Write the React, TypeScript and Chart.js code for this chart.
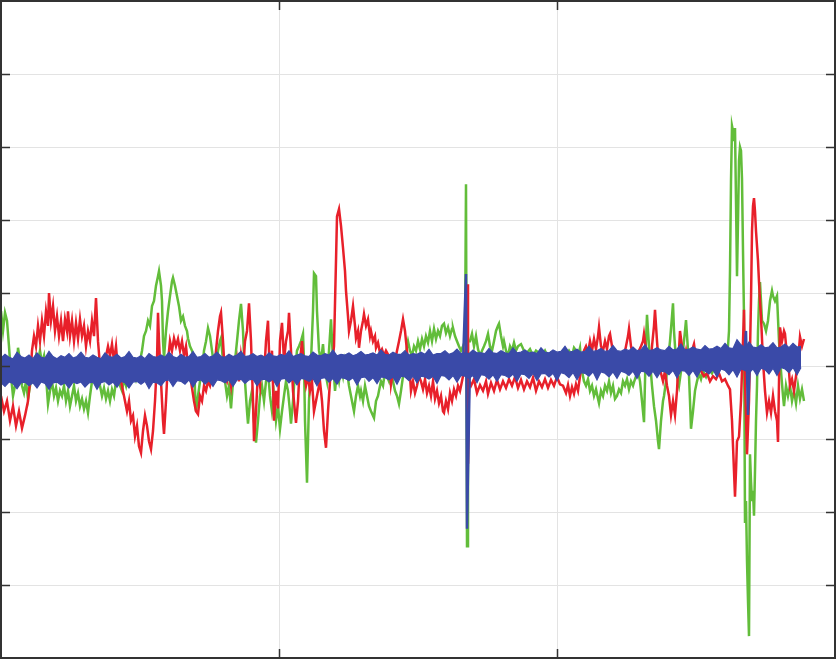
import React, { useEffect, useRef } from "react";
import { Chart, registerables } from "chart.js";

Chart.register(...registerables);

// x: sample index, y: signal amplitude (grid = 1 unit)
const xMax = 834;
const xStep = 278;
const yMin = -4;
const yMax = 5;

const redSeries: [number, number][] = [[0,-0.41],[3,-0.62],[6,-0.48],[9,-0.75],[12,-0.55],[15,-0.82],[18,-0.62],[21,-0.85],[24,-0.68],[27,-0.48],[29,-0.21],[31,0.21],[33,0.41],[35,0.27],[37,0.55],[39,0.34],[41,0.62],[43,0.41],[45,0.75],[47,0.55],[48,1.0],[50,0.62],[52,0.82],[54,0.48],[56,0.68],[58,0.41],[60,0.62],[62,0.34],[64,0.64],[66,0.48],[67,0.75],[69,0.41],[71,0.62],[73,0.34],[75,0.59],[77,0.37],[79,0.64],[81,0.41],[83,0.55],[85,0.27],[87,0.48],[89,0.34],[91,0.62],[93,0.41],[95,0.93],[97,0.34],[99,0],[101,-0.07],[104,0.07],[107,0.27],[109,0.14],[111,0.30],[113,0.07],[115,0.27],[117,-0.07],[120,-0.21],[123,-0.41],[126,-0.62],[128,-0.48],[130,-0.75],[132,-0.68],[134,-0.96],[136,-0.82],[138,-1.10],[140,-1.19],[142,-0.89],[144,-0.68],[146,-0.82],[148,-1.03],[150,-1.14],[152,-0.89],[154,-0.48],[156,0.07],[157,0.73],[158,0.34],[160,-0.21],[162,-0.75],[163,-0.93],[165,-0.48],[167,0.07],[169,0.34],[171,0.21],[173,0.38],[175,0.27],[177,0.37],[179,0.21],[181,0.34],[183,0.14],[185,0.27],[187,0],[190,-0.21],[193,-0.48],[195,-0.62],[197,-0.66],[199,-0.41],[201,-0.48],[203,-0.27],[205,-0.34],[207,-0.21],[209,-0.27],[211,-0.14],[213,-0.07],[215,0.21],[217,0.48],[219,0.68],[220,0.73],[222,0.34],[224,-0.14],[226,-0.21],[228,-0.07],[230,-0.27],[232,0],[234,-0.14],[236,0.07],[238,-0.21],[240,0.14],[242,-0.07],[244,0.34],[246,0.48],[248,0.86],[250,0.34],[252,-0.48],[253,-1.03],[255,-0.62],[257,-0.07],[259,-0.27],[261,0.14],[263,-0.14],[265,0.34],[267,0.62],[269,-0.21],[271,0.21],[273,-0.75],[275,-0.34],[277,-0.58],[279,0.34],[281,0.59],[283,0.07],[285,0.34],[287,0.48],[288,0.73],[290,0.21],[292,-0.34],[295,-0.78],[297,-0.48],[299,0.07],[301,0.34],[303,-0.07],[305,-0.27],[307,-0.14],[309,-0.34],[311,-0.21],[313,-0.62],[315,-0.48],[317,-0.34],[319,-0.21],[321,-0.48],[323,-0.89],[325,-1.12],[327,-0.62],[329,-0.21],[331,0],[333,0.27],[335,1.44],[336,2.05],[338,2.15],[340,1.92],[342,1.62],[344,1.30],[345,1.03],[347,0.68],[348,0.48],[350,0.62],[352,0.82],[354,0.55],[355,0.38],[357,0.48],[358,0.25],[360,0.48],[362,0.62],[363,0.71],[365,0.55],[367,0.64],[369,0.41],[370,0.48],[372,0.34],[374,0.41],[375,0.25],[377,0.32],[379,0.18],[381,0.23],[383,0.14],[385,0.21],[387,0.16],[389,0],[390,-0.25],[392,-0.07],[394,0.07],[396,0.21],[398,0.34],[400,0.48],[402,0.64],[404,0.48],[405,0.34],[407,0.07],[409,-0.14],[410,-0.34],[412,-0.21],[414,-0.37],[416,-0.27],[418,-0.14],[420,-0.21],[422,-0.32],[424,-0.18],[426,-0.37],[428,-0.27],[430,-0.41],[432,-0.21],[434,-0.45],[436,-0.34],[438,-0.51],[440,-0.41],[442,-0.62],[443,-0.64],[445,-0.48],[447,-0.59],[449,-0.37],[451,-0.48],[453,-0.32],[455,-0.41],[457,-0.27],[459,-0.34],[461,-0.21],[463,-0.07],[465,0.34],[466,1.12],[467,-1.34],[468,-0.21],[470,-0.27],[473,-0.18],[476,-0.37],[479,-0.26],[482,-0.34],[485,-0.21],[487,-0.38],[490,-0.23],[493,-0.34],[496,-0.19],[499,-0.32],[502,-0.21],[505,-0.30],[508,-0.18],[511,-0.27],[514,-0.15],[517,-0.30],[520,-0.19],[523,-0.32],[526,-0.21],[529,-0.29],[532,-0.16],[535,-0.34],[538,-0.21],[541,-0.29],[544,-0.18],[547,-0.30],[550,-0.19],[553,-0.27],[556,-0.15],[559,-0.25],[562,-0.27],[565,-0.37],[567,-0.26],[569,-0.41],[571,-0.29],[573,-0.38],[575,-0.25],[577,-0.34],[579,-0.14],[581,0.07],[583,0.21],[585,0.27],[587,0.18],[589,0.34],[591,0.21],[593,0.37],[595,0.23],[597,0.41],[598,0.53],[600,0.27],[602,0.21],[604,0.34],[606,0.23],[608,0.41],[609,0.44],[611,0.27],[613,0.14],[615,0.04],[617,-0.07],[619,0],[621,0.07],[623,0.14],[625,0.27],[627,0.41],[628,0.51],[630,0.27],[632,0.14],[634,0],[636,0.07],[638,0.21],[640,0.27],[642,0.34],[643,0.44],[645,0.23],[647,0],[649,-0.07],[651,0.27],[653,0.55],[654,0.77],[656,0.34],[658,0],[660,-0.10],[662,-0.21],[664,-0.07],[666,-0.27],[668,-0.41],[670,-0.67],[672,-0.48],[674,-0.67],[676,-0.34],[678,0.21],[679,0.48],[681,0.27],[683,0.07],[685,0.21],[687,0.07],[689,0.14],[691,0.21],[693,0.30],[695,0.10],[697,0],[700,-0.07],[703,-0.14],[706,-0.10],[709,-0.21],[712,-0.14],[715,-0.18],[718,-0.10],[721,-0.21],[724,-0.18],[727,-0.27],[729,-0.32],[731,-0.75],[733,-1.44],[734,-1.79],[735,-1.44],[736,-1.03],[738,-0.97],[740,-0.48],[742,0.34],[743,0.77],[744,-0.21],[746,-1.21],[748,-0.48],[750,0.89],[751,1.85],[752,2.19],[753,2.30],[754,2.12],[755,1.85],[757,1.44],[758,1.15],[759,0.89],[760,0.67],[762,0.07],[764,-0.34],[766,-0.64],[768,-0.48],[770,-0.64],[772,-0.41],[774,-0.62],[776,-0.75],[777,-1.04],[778,-0.21],[779,0.53],[781,0.34],[783,0.48],[784,0.44],[786,0.14],[788,-0.07],[789,-0.27],[791,-0.18],[793,-0.34],[795,-0.14],[797,0.07],[799,0.40],[801,0.27],[803,0.37]];

const greenSeries: [number, number][] = [[0,0.75],[2,0.48],[4,0.73],[6,0.62],[8,0.27],[10,-0.14],[12,-0.41],[14,-0.27],[16,-0.07],[17,0.25],[19,0.07],[21,-0.27],[23,-0.37],[25,-0.21],[27,-0.45],[29,-0.27],[31,-0.14],[33,0],[35,0.14],[37,0.07],[39,0.21],[41,0.04],[43,0.14],[45,-0.14],[47,-0.52],[49,-0.34],[51,-0.21],[53,-0.41],[55,-0.30],[57,-0.48],[59,-0.34],[61,-0.41],[63,-0.27],[65,-0.48],[67,-0.34],[69,-0.55],[71,-0.41],[73,-0.27],[75,-0.48],[77,-0.37],[79,-0.55],[81,-0.45],[83,-0.59],[85,-0.48],[87,-0.64],[89,-0.41],[91,-0.21],[93,-0.07],[95,-0.21],[97,-0.07],[99,-0.27],[101,-0.41],[103,-0.30],[105,-0.45],[107,-0.34],[109,-0.48],[111,-0.32],[113,-0.41],[115,-0.21],[117,-0.14],[119,-0.27],[121,-0.34],[123,-0.18],[125,-0.27],[127,-0.10],[129,-0.21],[131,-0.14],[133,-0.07],[135,-0.18],[137,-0.07],[139,0.07],[141,0.21],[143,0.41],[145,0.48],[147,0.62],[149,0.55],[151,0.82],[153,0.89],[155,1.10],[157,1.23],[158,1.30],[160,1.10],[161,0.89],[162,0.34],[163,0.11],[165,0.48],[167,0.75],[169,0.96],[171,1.16],[172,1.21],[174,1.10],[176,0.96],[178,0.82],[180,0.62],[182,0.68],[184,0.55],[186,0.48],[187,0.38],[189,0.27],[191,0.21],[193,0.11],[194,-0.34],[195,-0.62],[197,-0.41],[199,-0.21],[201,-0.07],[203,0.21],[205,0.34],[207,0.52],[209,0.41],[211,0.21],[213,0],[215,-0.07],[217,0.21],[219,0.34],[220,0.38],[222,0.07],[224,-0.21],[226,-0.41],[228,-0.27],[230,-0.58],[232,-0.21],[234,0.07],[236,0.34],[238,0.62],[240,0.85],[242,0.48],[244,-0.21],[246,-0.62],[247,-0.79],[249,-0.48],[251,-0.34],[253,-0.75],[255,-1.05],[257,-0.75],[259,-0.41],[261,-0.27],[263,-0.48],[265,-0.21],[267,-0.07],[269,-0.41],[271,-0.62],[273,-0.41],[275,-0.75],[277,-0.55],[279,-0.86],[281,-0.62],[283,-0.41],[285,-0.21],[287,-0.34],[289,-0.62],[290,-0.79],[292,-0.48],[294,-0.07],[296,0.21],[298,0.27],[300,0.34],[302,0.44],[303,0.07],[304,-0.75],[306,-1.60],[307,-1.03],[308,-0.48],[310,0.07],[312,0.75],[313,1.27],[315,1.23],[316,0.75],[318,0.21],[320,0.07],[322,0.30],[324,-0.07],[326,-0.21],[328,0.21],[330,0.64],[332,0.07],[334,-0.34],[336,-0.07],[338,-0.21],[340,0],[342,-0.14],[344,0.07],[346,-0.07],[348,-0.27],[350,-0.41],[352,-0.55],[353,-0.62],[355,-0.41],[357,-0.27],[359,-0.41],[360,-0.34],[362,-0.48],[364,-0.27],[366,-0.41],[368,-0.55],[370,-0.62],[372,-0.68],[373,-0.71],[375,-0.48],[377,-0.41],[378,-0.34],[380,-0.21],[382,-0.27],[384,-0.07],[386,-0.14],[388,-0.21],[390,-0.07],[392,-0.21],[394,-0.34],[396,-0.41],[398,-0.52],[400,-0.34],[402,-0.14],[404,0.07],[406,0.27],[407,0.34],[409,0.21],[411,0.14],[413,0.27],[415,0.21],[417,0.34],[419,0.23],[421,0.37],[423,0.27],[425,0.41],[427,0.32],[429,0.48],[431,0.34],[433,0.51],[435,0.37],[437,0.48],[439,0.41],[441,0.55],[443,0.58],[445,0.45],[447,0.53],[449,0.41],[451,0.51],[452,0.52],[454,0.41],[456,0.34],[458,0.27],[460,0.21],[462,0.27],[464,0.34],[465,2.49],[466,-2.47],[467,0.34],[469,0.34],[471,0.44],[473,0.27],[475,0.41],[477,0.23],[479,0.14],[481,0.21],[483,0.27],[485,0.34],[487,0.44],[489,0.27],[491,0.21],[493,0.34],[495,0.48],[497,0.55],[498,0.58],[500,0.41],[502,0.27],[503,0.34],[505,0.21],[507,0.14],[509,0.27],[511,0.21],[513,0.32],[515,0.21],[517,0.27],[520,0.30],[523,0.21],[526,0.18],[529,0.23],[532,0.14],[535,0.21],[538,0.18],[541,0.14],[544,0.21],[547,0.12],[550,0.18],[553,0.14],[556,0.07],[559,0.14],[562,0.07],[565,0.14],[568,0.21],[571,0.14],[573,0.25],[575,0.21],[577,0.14],[579,0.25],[581,-0.07],[583,-0.21],[585,-0.27],[587,-0.18],[589,-0.34],[591,-0.27],[593,-0.41],[595,-0.32],[597,-0.45],[598,-0.51],[600,-0.34],[602,-0.41],[604,-0.27],[606,-0.34],[608,-0.21],[610,-0.37],[612,-0.27],[614,-0.45],[616,-0.41],[618,-0.32],[620,-0.37],[622,-0.21],[624,-0.27],[626,-0.18],[628,-0.32],[630,-0.21],[632,-0.27],[633,-0.22],[635,-0.14],[637,-0.07],[639,-0.21],[641,-0.48],[643,-0.77],[644,-0.21],[645,0.34],[646,0.70],[647,0.48],[649,0.07],[651,-0.27],[653,-0.55],[655,-0.75],[657,-1.03],[658,-1.14],[660,-0.75],[662,-0.48],[663,-0.41],[665,-0.21],[667,0.07],[669,0.34],[671,0.68],[672,0.86],[673,0.48],[675,0.07],[677,-0.21],[678,-0.27],[680,-0.07],[682,0.21],[684,0.48],[685,0.63],[687,0.21],[689,-0.48],[690,-0.86],[692,-0.62],[694,-0.34],[696,-0.21],[698,-0.10],[700,-0.18],[702,-0.07],[705,-0.15],[708,-0.04],[711,-0.10],[714,0],[717,-0.07],[720,0.04],[723,0],[725,0.14],[727,0.27],[728,0.48],[729,1.30],[730,2.53],[731,3.29],[732,3.22],[733,3.08],[734,3.26],[735,2.26],[736,1.23],[737,1.99],[738,2.81],[739,3.0],[740,2.95],[741,2.56],[742,1.58],[743,0.67],[744,-2.15],[745,-1.85],[746,-2.67],[747,-3.22],[748,-3.70],[749,-1.21],[750,-1.58],[751,-1.85],[752,-1.71],[753,-2.05],[754,-1.44],[755,-0.75],[756,-0.27],[757,0.48],[758,0.89],[759,1.15],[760,0.89],[761,0.62],[763,0.58],[765,0.48],[767,0.62],[769,0.89],[771,1.03],[772,0.96],[774,0.89],[776,0.96],[778,0.34],[780,-0.07],[782,-0.41],[783,-0.55],[785,-0.27],[787,-0.41],[789,-0.27],[791,-0.48],[793,-0.34],[795,-0.51],[797,-0.27],[799,-0.45],[801,-0.32],[803,-0.48]];

// Blue trace: upper and lower edges of its noise band, one value every 4 samples from 0 to 800
const blueSampleStep = 4;
const blueUpper: number[] = [
  0.11,0.16,0.12,0.10,0.19,0.13,0.11,0.15,0.10,0.18,
  0.12,0.11,0.20,0.13,0.10,0.14,0.12,0.17,0.11,0.13,
  0.19,0.12,0.11,0.15,0.12,0.10,0.18,0.13,0.12,0.16,
  0.11,0.13,0.20,0.12,0.11,0.14,0.10,0.17,0.13,0.12,
  0.15,0.12,0.19,0.13,0.11,0.16,0.12,0.13,0.20,0.12,
  0.13,0.17,0.12,0.14,0.19,0.13,0.12,0.16,0.13,0.15,
  0.20,0.13,0.14,0.17,0.13,0.15,0.12,0.18,0.14,0.13,
  0.16,0.14,0.21,0.13,0.15,0.17,0.14,0.13,0.19,0.15,
  0.14,0.17,0.15,0.22,0.14,0.16,0.15,0.18,0.14,0.16,
  0.20,0.15,0.16,0.18,0.15,0.22,0.16,0.15,0.19,0.16,
  0.16,0.21,0.15,0.17,0.16,0.19,0.16,0.23,0.15,0.17,
  0.17,0.21,0.16,0.18,0.23,0.17,0.18,0.17,0.22,0.18,
  0.18,0.17,0.24,0.18,0.17,0.21,0.18,0.17,0.25,0.18,
  0.19,0.22,0.18,0.19,0.17,0.25,0.19,0.18,0.22,0.19,
  0.20,0.27,0.19,0.20,0.23,0.19,0.20,0.27,0.20,0.21,
  0.24,0.20,0.21,0.28,0.21,0.20,0.23,0.21,0.26,0.21,
  0.22,0.29,0.21,0.22,0.25,0.22,0.21,0.27,0.22,0.23,
  0.30,0.22,0.23,0.26,0.23,0.22,0.28,0.23,0.24,0.27,
  0.24,0.31,0.25,0.24,0.36,0.29,0.25,0.33,0.26,0.25,
  0.29,0.25,0.26,0.32,0.25,0.26,0.30,0.25,0.31,0.26,
  0.27,
];
const blueLower: number[] = [
  -0.23,-0.28,-0.22,-0.24,-0.31,-0.23,-0.22,-0.27,-0.23,-0.30,
  -0.22,-0.24,-0.32,-0.23,-0.22,-0.26,-0.23,-0.30,-0.22,-0.24,
  -0.22,-0.29,-0.23,-0.22,-0.32,-0.23,-0.21,-0.26,-0.22,-0.29,
  -0.21,-0.23,-0.30,-0.22,-0.21,-0.25,-0.21,-0.31,-0.22,-0.23,
  -0.27,-0.20,-0.19,-0.28,-0.20,-0.21,-0.25,-0.19,-0.29,-0.20,
  -0.19,-0.25,-0.20,-0.28,-0.19,-0.20,-0.23,-0.19,-0.28,-0.19,
  -0.18,-0.24,-0.19,-0.18,-0.27,-0.19,-0.18,-0.22,-0.18,-0.28,
  -0.18,-0.17,-0.23,-0.18,-0.26,-0.17,-0.18,-0.21,-0.17,-0.27,
  -0.17,-0.16,-0.22,-0.17,-0.25,-0.16,-0.17,-0.20,-0.16,-0.26,
  -0.16,-0.15,-0.21,-0.16,-0.24,-0.15,-0.16,-0.19,-0.15,-0.25,
  -0.14,-0.15,-0.20,-0.14,-0.23,-0.14,-0.15,-0.18,-0.14,-0.24,
  -0.13,-0.14,-0.19,-0.13,-0.22,-0.13,-0.14,-0.17,-0.13,-0.23,
  -0.12,-0.13,-0.18,-0.12,-0.21,-0.12,-0.13,-0.16,-0.11,-0.21,
  -0.11,-0.12,-0.17,-0.10,-0.20,-0.11,-0.10,-0.15,-0.10,-0.20,
  -0.09,-0.11,-0.16,-0.09,-0.19,-0.09,-0.10,-0.14,-0.08,-0.19,
  -0.08,-0.10,-0.15,-0.08,-0.17,-0.07,-0.09,-0.13,-0.07,-0.17,
  -0.07,-0.08,-0.14,-0.07,-0.16,-0.07,-0.08,-0.12,-0.06,-0.16,
  -0.06,-0.07,-0.13,-0.06,-0.15,-0.05,-0.07,-0.11,-0.05,-0.15,
  -0.04,-0.06,-0.12,-0.05,-0.15,-0.04,-0.06,-0.10,-0.04,-0.13,
  -0.03,-0.05,-0.11,-0.03,-0.13,-0.02,-0.04,-0.09,-0.02,-0.12,
  -0.02,
];

const blueSpikes: [number, number | null][] = [[462,0.05],[465,1.26],[466,-2.23],[469,0.05],[600,null],[743,0.12],[745,0.48],[747,-0.67],[749,0.12]];

const RED = "#e8202a";
const GREEN = "#62bd3a";
const BLUE = "#3a4aa8";
const GRID = "#e3e3e3";
const FRAME = "#333333";

const toXY = (arr: [number, number | null][]) => arr.map(([x, y]) => ({ x, y }));
const bandToXY = (vals: number[]) => vals.map((y, i) => ({ x: i * blueSampleStep, y }));

const framePlugin = {
  id: "frameBox",
  afterDraw(chart: any) {
    const { ctx, chartArea, scales } = chart;
    const { left, right, top, bottom } = chartArea;
    ctx.save();
    ctx.strokeStyle = FRAME;
    ctx.lineWidth = 2;
    ctx.strokeRect(left, top, right - left, bottom - top);
    const len = 9;
    ctx.lineWidth = 1.5;
    ctx.beginPath();
    scales.x.ticks.forEach((t: any) => {
      if (t.value <= 0 || t.value >= xMax) return;
      const px = Math.round(scales.x.getPixelForValue(t.value)) + 0.5;
      ctx.moveTo(px, top);
      ctx.lineTo(px, top + len);
      ctx.moveTo(px, bottom);
      ctx.lineTo(px, bottom - len);
    });
    scales.y.ticks.forEach((t: any) => {
      if (t.value <= yMin || t.value >= yMax) return;
      const py = Math.round(scales.y.getPixelForValue(t.value)) + 0.5;
      ctx.moveTo(left, py);
      ctx.lineTo(left + len, py);
      ctx.moveTo(right, py);
      ctx.lineTo(right - len, py);
    });
    ctx.stroke();
    ctx.restore();
  },
};

export default function App() {
  const ref = useRef<HTMLCanvasElement | null>(null);
  useEffect(() => {
    if (!ref.current) return;
    const chart = new Chart(ref.current, {
      type: "line",
      data: {
        datasets: [
          {
            data: bandToXY(blueUpper),
            borderColor: BLUE,
            backgroundColor: BLUE,
            borderWidth: 1.2,
            fill: "+1",
            order: 0,
          },
          {
            data: bandToXY(blueLower),
            borderColor: BLUE,
            backgroundColor: BLUE,
            borderWidth: 1.2,
            fill: false,
            order: 0,
          },
          {
            data: toXY(blueSpikes),
            borderColor: BLUE,
            borderWidth: 2.5,
            fill: false,
            order: 0,
          },
          {
            data: toXY(redSeries),
            borderColor: RED,
            borderWidth: 2.5,
            fill: false,
            order: 1,
          },
          {
            data: toXY(greenSeries),
            borderColor: GREEN,
            borderWidth: 2.5,
            fill: false,
            order: 2,
          },
        ],
      },
      options: {
        animation: false,
        responsive: false,
        devicePixelRatio: 1,
        layout: { padding: { left: 1, top: 1, right: 1, bottom: 1 } },
        elements: { point: { radius: 0 }, line: { tension: 0 } },
        plugins: { legend: { display: false }, tooltip: { enabled: false } },
        scales: {
          x: {
            type: "linear",
            min: 0,
            max: xMax,
            ticks: { display: false, stepSize: xStep },
            grid: { color: GRID, lineWidth: 1, drawTicks: false },
            border: { display: false },
          },
          y: {
            type: "linear",
            min: yMin,
            max: yMax,
            ticks: { display: false, stepSize: 1 },
            grid: { color: GRID, lineWidth: 1, drawTicks: false },
            border: { display: false },
          },
        },
      },
      plugins: [framePlugin],
    });
    return () => chart.destroy();
  }, []);
  return (
    <div style={{ position: "absolute", left: 0, top: 0, width: 836, height: 659, background: "#fff" }}>
      <canvas ref={ref} width={836} height={659} />
    </div>
  );
}
